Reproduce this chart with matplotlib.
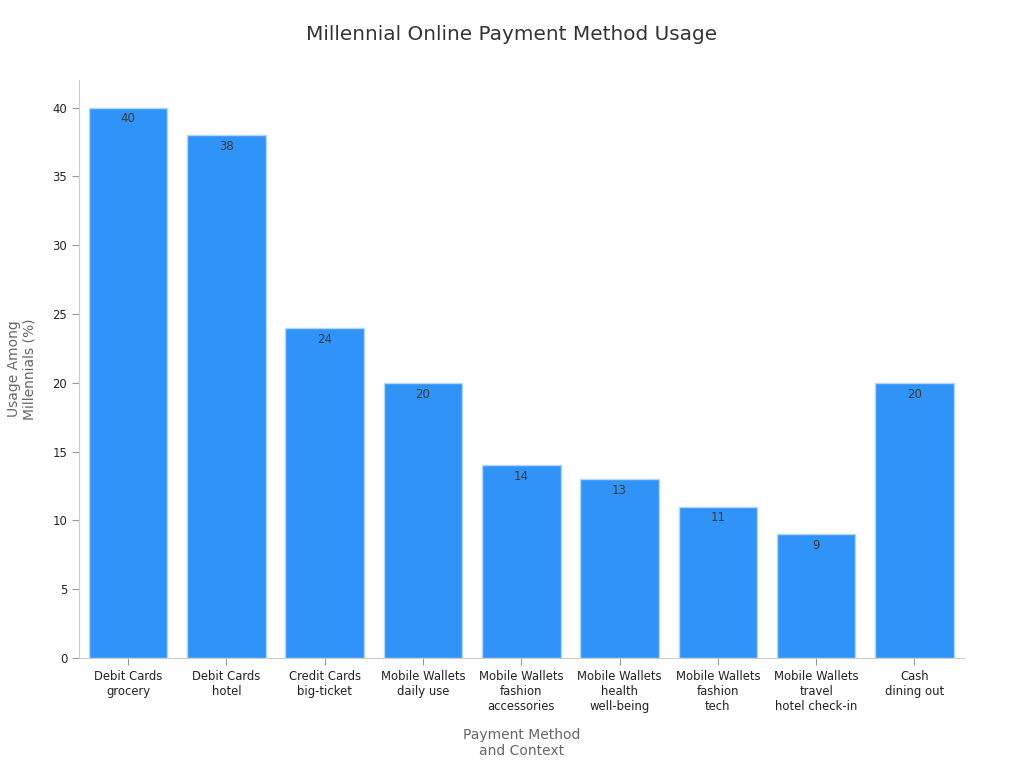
import matplotlib.pyplot as plt
import numpy as np

categories = ['Debit Cards\ngrocery', 'Debit Cards\nhotel', 'Credit Cards\nbig-ticket',
              'Mobile Wallets\ndaily use', 'Mobile Wallets\nfashion\naccessories',
              'Mobile Wallets\nhealth\nwell-being', 'Mobile Wallets\nfashion\ntech',
              'Mobile Wallets\ntravel\nhotel check-in', 'Cash\ndining out']
usage = [40, 38, 24, 20, 14, 13, 11, 9, 20]

fig = plt.figure(figsize=(10.24, 7.68), dpi=100)
ax = fig.add_axes([0.0771, 0.1432, 0.8639, 0.7526])

index = np.arange(len(categories))
ax.bar(index, usage, 0.8, color='#2f93f7', edgecolor='#b5d6f5', linewidth=1)

for i, v in enumerate(usage):
    ax.text(i, v - 0.35, str(v), ha='center', va='top', fontsize=8.5, color='#3a3a3a')

ax.set_xlim(-0.5, len(categories) - 0.5)
ax.set_ylim(0, 42)
ax.set_yticks([0, 5, 10, 15, 20, 25, 30, 35, 40])
ax.set_xticks(index)
ax.set_xticklabels(categories, fontsize=8.4, color='#222222')
ax.tick_params(axis='y', labelsize=8.4, labelcolor='#222222', color='#999999', length=5)
ax.tick_params(axis='x', color='#999999', length=5)

for s in ['top', 'right']:
    ax.spines[s].set_visible(False)
for s in ['left', 'bottom']:
    ax.spines[s].set_color('#cccccc')

ax.set_xlabel('Payment Method\nand Context', fontsize=10, color='#666666', labelpad=11)
ax.set_ylabel('Usage Among\nMillennials (%)', fontsize=10, color='#666666', labelpad=11)
fig.suptitle('Millennial Online Payment Method Usage', fontsize=14.4, color='#333333', y=0.968)

fig.savefig('out.png', dpi=100)
